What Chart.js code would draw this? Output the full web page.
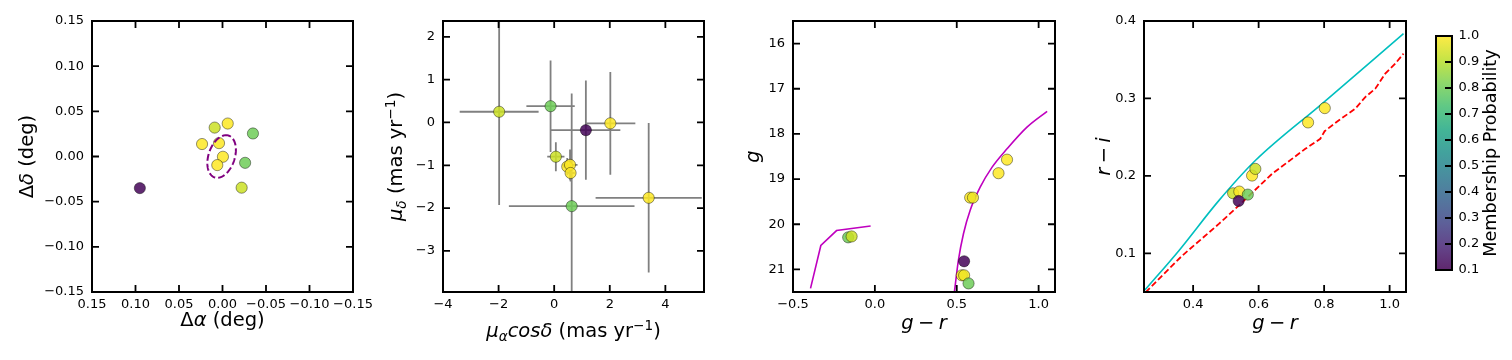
<!DOCTYPE html>
<html>
<head>
<meta charset="utf-8">
<script src="https://cdn.jsdelivr.net/npm/chart.js@4.4.1/dist/chart.umd.min.js"></script>
<style>
html,body{margin:0;padding:0;background:#ffffff;}
#fig{position:relative;width:1512px;height:360px;overflow:hidden;background:#fff;}
#fig canvas{position:absolute;left:0;top:0;width:1512px;height:360px;}
</style>
</head>
<body>
<div id="fig">
<canvas id="sky" width="1512" height="360"></canvas>
<canvas id="pm" width="1512" height="360"></canvas>
<canvas id="cmd" width="1512" height="360"></canvas>
<canvas id="cc" width="1512" height="360"></canvas>
<canvas id="cbar" width="1512" height="360"></canvas>
</div>
<script>
// ================= DATA =================
// Panel 1: sky offsets (deg)
const skyRA   = [0.095, -0.006, 0.009, -0.035, 0.0235, 0.004, -0.0005, 0.006, -0.026, -0.022];
const skyDec  = [-0.035, 0.0365, 0.032, 0.0255, 0.0138, 0.0148, -0.0003, -0.0095, -0.007, -0.0345];
const skyProb = [0.11, 1.00, 0.93, 0.80, 1.00, 1.00, 1.00, 1.00, 0.80, 0.93];
const ellipseCenter = [0.001, 0.0];      // deg
const ellipseAxes   = [0.0245, 0.015];   // semi-major, semi-minor (deg)
const ellipseTilt   = 20;                // deg, from north toward -RA
const skyTicks = [0.15, 0.10, 0.05, 0.00, -0.05, -0.10, -0.15];

// Panel 2: proper motions (mas/yr)
const pmRA     = [-1.98, -0.13, 1.14, 2.02, 0.06, 0.47, 0.57, 0.59, 0.63, 3.40];
const pmDec    = [0.25, 0.38, -0.18, -0.02, -0.80, -1.03, -0.99, -1.18, -1.955, -1.76];
const pmRAErr  = [1.42, 0.87, 1.24, 0.90, 0.31, 0.15, 0.27, 0.15, 2.26, 1.91];
const pmDecErr = [2.18, 1.07, 1.16, 1.20, 0.34, 0.20, 0.36, 0.20, 2.63, 1.745];
const pmProb   = [0.93, 0.80, 0.11, 1.00, 0.93, 1.00, 1.00, 1.00, 0.80, 1.00];
const pmXTicks = [-4, -2, 0, 2, 4];
const pmYTicks = [-3, -2, -1, 0, 1, 2];

// Panel 3: colour-magnitude diagram
const cmdGR   = [-0.163, -0.142, 0.582, 0.599, 0.755, 0.807, 0.545, 0.531, 0.545, 0.572];
const cmdG    = [20.29, 20.27, 19.41, 19.41, 18.87, 18.57, 20.82, 21.13, 21.13, 21.31];
const cmdProb = [0.80, 0.93, 1.00, 0.98, 1.00, 1.00, 0.11, 1.00, 0.98, 0.80];
const isoBlueGR = [-0.393, -0.330, -0.234, -0.026];
const isoBlueG  = [21.42, 20.47, 20.14, 20.04];
const isoRgbGR  = [0.484, 0.510, 0.541, 0.582, 0.643, 0.715, 0.807, 0.929, 1.052];
const isoRgbG   = [21.55, 20.80, 20.21, 19.69, 19.18, 18.74, 18.33, 17.85, 17.50];
const cmdXTicks = [-0.5, 0.0, 0.5, 1.0];
const cmdYTicks = [16, 17, 18, 19, 20, 21];

// Panel 4: colour-colour diagram
const ccGR   = [0.522, 0.541, 0.567, 0.539, 0.580, 0.590, 0.751, 0.802];
const ccRI   = [0.1775, 0.1797, 0.1758, 0.1676, 0.2004, 0.209, 0.269, 0.2875];
const ccProb = [0.93, 1.00, 0.80, 0.11, 1.00, 0.93, 1.00, 1.00];
const seqCyanGR = [0.2527, 0.3564, 0.4784, 0.590, 0.7933, 1.0424];
const seqCyanRI = [0.0525, 0.1034, 0.168, 0.2198, 0.2931, 0.3837];
const seqRedGR  = [0.2548, 0.3666, 0.4784, 0.5393, 0.6409, 0.7426, 0.7883, 0.8015, 0.8442, 0.8951, 0.9256, 0.9561, 0.9866, 1.017, 1.0424];
const seqRedRI  = [0.0495, 0.0969, 0.1379, 0.1616, 0.2026, 0.2349, 0.2479, 0.2577, 0.2715, 0.2867, 0.3017, 0.3125, 0.332, 0.3449, 0.3578];
const ccXTicks = [0.4, 0.6, 0.8, 1.0];
const ccYTicks = [0.1, 0.2, 0.3, 0.4];

// Colour bar
const cbMin = 0.1, cbMax = 1.0;
const cbTicks = [0.1, 0.2, 0.3, 0.4, 0.5, 0.6, 0.7, 0.8, 0.9, 1.0];

// Text
const T_SKY_X = [{t:'Δ'},{t:'α',it:1},{t:' (deg)'}];
const T_SKY_Y = [{t:'Δ'},{t:'δ',it:1},{t:' (deg)'}];
const T_PM_X  = [{t:'μ',it:1},{t:'α',it:1,sc:0.7,dy:-0.2},{t:'cosδ',it:1},{t:' (mas yr'},{t:'−1',sc:0.7,dy:0.36},{t:')'}];
const T_PM_Y  = [{t:'μ',it:1},{t:'δ',it:1,sc:0.7,dy:-0.2},{t:' (mas yr'},{t:'−1',sc:0.7,dy:0.36},{t:')'}];
const T_GR    = [{t:'g',it:1},{gap:0.22},{t:'−'},{gap:0.22},{t:'r',it:1}];
const T_G     = [{t:'g',it:1}];
const T_RI    = [{t:'r',it:1},{gap:0.22},{t:'−'},{gap:0.22},{t:'i',it:1}];
const T_CB    = [{t:'Membership Probability'}];

// ================= STYLE / HELPERS =================
const W = 1512, H = 360;
const FONT = 'DejaVu Sans';
const TICK_FS = 13, LABEL_FS = 19.5, CBAR_FS = 17.6;
const ALPHA = 0.85;
Chart.defaults.font.family = FONT;
Chart.defaults.font.size = TICK_FS;
Chart.defaults.color = '#000';

const VIRIDIS = ['#440154','#482475','#414487','#355f8d','#2a788e','#21918c','#22a884','#44bf70','#7ad151','#bddf26','#fde725'];
function hex(h){ return [parseInt(h.slice(1,3),16), parseInt(h.slice(3,5),16), parseInt(h.slice(5,7),16)]; }
function viridisRGB(t){
  t = Math.max(0, Math.min(1, t));
  const p = t * 10, i = Math.min(9, Math.floor(p)), f = p - i;
  const a = hex(VIRIDIS[i]), b = hex(VIRIDIS[i+1]);
  return a.map((v,k) => Math.round(v + (b[k]-v)*f));
}
function probColor(p){ const c = viridisRGB((p - cbMin)/(cbMax - cbMin)); return `rgba(${c[0]},${c[1]},${c[2]},${ALPHA})`; }
function fmt(v, dec){ return (v < -1e-12 ? '\u2212' : '') + Math.abs(v).toFixed(dec); }

// axis box sizes are fixed so the plot area lands exactly on `area`
function linAxis(position, min, max, ticks, dec, reverse, pad, boxSize){
  return {
    type: 'linear', position, min, max, reverse: !!reverse,
    grid: { display: false, drawTicks: false },
    border: { display: false },
    ticks: { autoSkip: false, maxRotation: 0, minRotation: 0, padding: pad, color: '#000',
             font: { family: FONT, size: TICK_FS }, callback: (v) => fmt(v, dec) },
    afterBuildTicks: (s) => { s.ticks = ticks.map(v => ({ value: v })); },
    afterFit: (s) => { if (s.isHorizontal()) s.height = boxSize; else s.width = boxSize; }
  };
}

function drawRich(ctx, parts, size, x, y, rot){
  let w = 0; const segs = [];
  for (const p of parts){
    if (p.gap){ segs.push({gap: p.gap*size}); w += p.gap*size; continue; }
    const fs = size * (p.sc || 1);
    const font = (p.it ? 'italic ' : '') + fs + 'px "' + FONT + '"';
    ctx.font = font;
    const mw = ctx.measureText(p.t).width;
    segs.push({t: p.t, font, w: mw, dy: (p.dy || 0) * size}); w += mw;
  }
  ctx.save();
  ctx.translate(x, y); ctx.rotate(rot);
  ctx.textBaseline = 'alphabetic'; ctx.textAlign = 'left'; ctx.fillStyle = '#000';
  let cx = -w/2;
  for (const s of segs){
    if (s.gap){ cx += s.gap; continue; }
    ctx.font = s.font; ctx.fillText(s.t, cx, -s.dy); cx += s.w;
  }
  ctx.restore();
}

function titlePlugin(o){
  return { id: 'richTitles', afterDraw(chart){
    const ctx = chart.ctx, a = chart.chartArea;
    if (o.x) drawRich(ctx, o.x.parts, o.x.size, (a.left + a.right)/2, o.x.base, 0);
    if (o.y) drawRich(ctx, o.y.parts, o.y.size, o.y.base, (a.top + a.bottom)/2, -Math.PI/2);
  }};
}
function framePlugin(o){
  return { id: 'frame', afterDraw(chart){
    const ctx = chart.ctx, a = chart.chartArea, L = 7;
    ctx.save();
    ctx.strokeStyle = '#000'; ctx.lineWidth = 1.8; ctx.lineCap = 'butt';
    ctx.beginPath();
    const xs = chart.scales.x, ys = chart.scales.y;
    if (o.xTicks) for (const t of xs.ticks){
      const p = xs.getPixelForValue(t.value);
      ctx.moveTo(p, a.bottom); ctx.lineTo(p, a.bottom - L);
      ctx.moveTo(p, a.top); ctx.lineTo(p, a.top + L);
    }
    for (const t of ys.ticks){
      const p = ys.getPixelForValue(t.value);
      if (o.left){ ctx.moveTo(a.left, p); ctx.lineTo(a.left + L, p); }
      if (o.right){ ctx.moveTo(a.right, p); ctx.lineTo(a.right - L, p); }
    }
    ctx.stroke();
    ctx.lineWidth = 2;
    ctx.strokeRect(a.left, a.top, a.right - a.left, a.bottom - a.top);
    ctx.restore();
  }};
}

function scatterDS(xs, ys, probs){
  return { type: 'scatter', data: xs.map((x,i) => ({x, y: ys[i]})),
    pointBackgroundColor: probs.map(probColor), backgroundColor: probs.map(probColor),
    pointBorderColor: 'rgba(0,0,0,0.6)', borderColor: 'rgba(0,0,0,0.6)',
    pointBorderWidth: 0.7, pointRadius: 5.6, pointHoverRadius: 5.6, order: 0 };
}
function lineDS(pts, color, width, dash, order, smooth){
  const d = { type: 'line', data: pts, borderColor: color, backgroundColor: color, borderWidth: width,
    borderDash: dash || [], pointRadius: 0, fill: false, showLine: true, spanGaps: false,
    tension: 0, order: order };
  if (smooth) { d.cubicInterpolationMode = 'monotone'; d.tension = 0.4; }
  return d;
}
// area = [left, top, right, bottom] of the plot frame
function build(id, area, type, data, scales, plugins, rightAxis){
  const pad = rightAxis
    ? { left: area[0], top: area[1], right: 0, bottom: H - area[3] }
    : { left: 0, top: area[1], right: W - area[2], bottom: 0 };
  return new Chart(document.getElementById(id), {
    type, data,
    options: { responsive: false, maintainAspectRatio: false, devicePixelRatio: 1, animation: false, events: [],
      layout: { padding: pad },
      plugins: { legend: { display: false }, tooltip: { enabled: false } },
      scales },
    plugins
  });
}
const XPAD = 5, YPAD = 8;

// ================= PANEL 1 =================
const ellipsePts = (() => {
  const [cx, cy] = ellipseCenter, [a, b] = ellipseAxes, th = ellipseTilt * Math.PI / 180;
  const ux = -Math.sin(th), uy = Math.cos(th), vx = Math.cos(th), vy = Math.sin(th);
  const out = [];
  for (let k = 0; k <= 144; k++){
    const t = 2*Math.PI*k/144, c = Math.cos(t)*a, s = Math.sin(t)*b;
    out.push({x: cx + c*ux + s*vx, y: cy + c*uy + s*vy});
  }
  return out;
})();
build('sky', [92, 21, 353, 292], 'scatter',
  { datasets: [ scatterDS(skyRA, skyDec, skyProb), lineDS(ellipsePts, '#800080', 2, [7, 3], -1) ] },
  { x: linAxis('bottom', -0.15, 0.15, skyTicks, 2, true, XPAD, H - 292),
    y: linAxis('left', -0.15, 0.15, skyTicks, 2, false, YPAD, 92) },
  [ framePlugin({xTicks: true, left: true, right: true}),
    titlePlugin({x: {parts: T_SKY_X, size: LABEL_FS, base: 325.5}, y: {parts: T_SKY_Y, size: LABEL_FS, base: 32.5}}) ]);

// ================= PANEL 2 =================
const errPts = [];
pmRA.forEach((x, i) => {
  const y = pmDec[i];
  errPts.push({x: x - pmRAErr[i], y}, {x: x + pmRAErr[i], y}, {x, y: null});
  errPts.push({x, y: y - pmDecErr[i]}, {x, y: y + pmDecErr[i]}, {x, y: null});
});
build('pm', [443, 21, 704, 292], 'scatter',
  { datasets: [ scatterDS(pmRA, pmDec, pmProb), lineDS(errPts, '#808080', 1.8, [], 1) ] },
  { x: linAxis('bottom', -4, 5.39, pmXTicks, 0, false, XPAD, H - 292),
    y: linAxis('left', -3.96, 2.37, pmYTicks, 0, false, YPAD, 443) },
  [ framePlugin({xTicks: true, left: true, right: true}),
    titlePlugin({x: {parts: T_PM_X, size: LABEL_FS, base: 337}, y: {parts: T_PM_Y, size: LABEL_FS, base: 402}}) ]);

// ================= PANEL 3 =================
build('cmd', [793, 21, 1055, 292], 'scatter',
  { datasets: [ scatterDS(cmdGR, cmdG, cmdProb),
      lineDS(isoBlueGR.map((x,i) => ({x, y: isoBlueG[i]})), '#bf00bf', 1.6, [], 1),
      lineDS(isoRgbGR.map((x,i) => ({x, y: isoRgbG[i]})), '#bf00bf', 1.6, [], 1, true) ] },
  { x: linAxis('bottom', -0.5, 1.1, cmdXTicks, 1, false, XPAD, H - 292),
    y: linAxis('left', 15.5, 21.5, cmdYTicks, 0, true, YPAD, 793) },
  [ framePlugin({xTicks: true, left: true, right: true}),
    titlePlugin({x: {parts: T_GR, size: LABEL_FS, base: 328.5}, y: {parts: T_G, size: LABEL_FS, base: 759}}) ]);

// ================= PANEL 4 =================
build('cc', [1144, 21, 1406, 292], 'scatter',
  { datasets: [ scatterDS(ccGR, ccRI, ccProb),
      lineDS(seqCyanGR.map((x,i) => ({x, y: seqCyanRI[i]})), '#00bfbf', 1.6, [], 1, true),
      lineDS(seqRedGR.map((x,i) => ({x, y: seqRedRI[i]})), '#ff0000', 1.8, [6, 2.8], 1) ] },
  { x: linAxis('bottom', 0.25, 1.05, ccXTicks, 1, false, XPAD, H - 292),
    y: linAxis('left', 0.05, 0.4, ccYTicks, 1, false, YPAD, 1144) },
  [ framePlugin({xTicks: true, left: true, right: true}),
    titlePlugin({x: {parts: T_GR, size: LABEL_FS, base: 328.5}, y: {parts: T_RI, size: LABEL_FS, base: 1109.5}}) ]);

// ================= COLOUR BAR =================
build('cbar', [1436, 36, 1452, 270], 'bar',
  { labels: [''], datasets: [{ data: [[cbMin, cbMax]], borderWidth: 0, barPercentage: 1, categoryPercentage: 1,
      backgroundColor: (c) => {
        const ch = c.chart, ys = ch.scales.y;
        if (!ch.chartArea || !ys) return 'rgba(0,0,0,0)';
        const g = ch.ctx.createLinearGradient(0, ys.getPixelForValue(cbMin), 0, ys.getPixelForValue(cbMax));
        VIRIDIS.forEach((h, i) => { const c3 = hex(h); g.addColorStop(i/10, `rgba(${c3[0]},${c3[1]},${c3[2]},${ALPHA})`); });
        return g;
      } }] },
  { x: { type: 'category', display: false, offset: true },
    y: linAxis('right', cbMin, cbMax, cbTicks, 1, false, 6.5, W - 1452) },
  [ framePlugin({xTicks: false, left: false, right: true}),
    titlePlugin({y: {parts: T_CB, size: CBAR_FS, base: 1496}}) ], true);
</script>
</body>
</html>
